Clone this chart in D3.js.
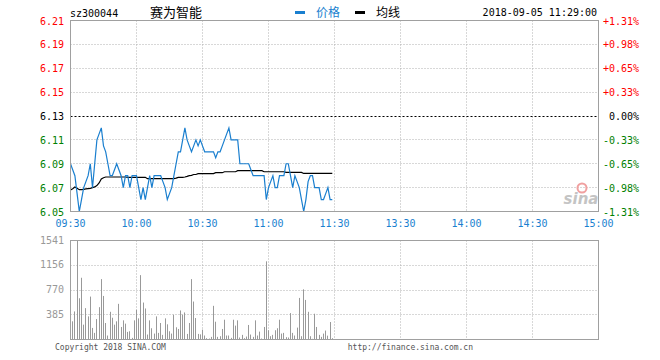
<!DOCTYPE html>
<html lang="zh">
<head>
<meta charset="UTF-8">
<title>sz300044 赛为智能</title>
<script src="https://d3js.org/d3.v7.min.js"></script>
<style>
  body { margin: 0; background: #fff; }
  svg { display: block; }
  .mono { font-family: "DejaVu Sans Mono", "Liberation Mono", monospace; }
</style>
</head>
<body>
<svg width="660" height="360"></svg>
<script>
// price per minute, 09:30 .. 11:29
const prices = [
  6.09, 6.085, 6.08, 6.065, 6.05, 6.06, 6.07, 6.075, 6.08, 6.09,
  6.07, 6.09, 6.11, 6.115, 6.12, 6.105, 6.10, 6.09, 6.08, 6.08,
  6.085, 6.09, 6.085, 6.08, 6.07, 6.08, 6.08, 6.07, 6.08, 6.08,
  6.08, 6.07, 6.06, 6.07, 6.06, 6.07, 6.08, 6.07, 6.08, 6.08,
  6.08, 6.08, 6.075, 6.07, 6.06, 6.065, 6.07, 6.08, 6.09, 6.10,
  6.10, 6.11, 6.12, 6.11, 6.105, 6.10, 6.105, 6.11, 6.105, 6.11,
  6.105, 6.10, 6.10, 6.10, 6.10, 6.10, 6.095, 6.10, 6.10, 6.105,
  6.11, 6.115, 6.12, 6.11, 6.11, 6.11, 6.11, 6.09, 6.09, 6.09,
  6.09, 6.09, 6.085, 6.08, 6.08, 6.08, 6.08, 6.08, 6.08, 6.06,
  6.07, 6.075, 6.08, 6.07, 6.07, 6.08, 6.08, 6.08, 6.09, 6.09,
  6.08, 6.07, 6.08, 6.075, 6.07, 6.06, 6.05, 6.06, 6.075, 6.08,
  6.08, 6.07, 6.07, 6.07, 6.06, 6.06, 6.065, 6.07, 6.06, 6.06
];
const avgPrices = [
  6.068, 6.069, 6.0705, 6.0694, 6.0683, 6.0683, 6.0686, 6.0689, 6.0692, 6.0694,
  6.07, 6.0706, 6.0717, 6.0739, 6.0772, 6.0783, 6.0789, 6.0789, 6.0789, 6.0789,
  6.0789, 6.0789, 6.0789, 6.0789, 6.0789, 6.0789, 6.0786, 6.0786, 6.0786, 6.0786,
  6.0786, 6.0786, 6.0786, 6.0786, 6.0786, 6.0775, 6.0775, 6.0775, 6.0775, 6.0775,
  6.0775, 6.0775, 6.0775, 6.0775, 6.0775, 6.0775, 6.0775, 6.0775, 6.078, 6.0786,
  6.0786, 6.0786, 6.0789, 6.0794, 6.08, 6.0803, 6.081, 6.081, 6.0817, 6.0817,
  6.0817, 6.0817, 6.0817, 6.0817, 6.0817, 6.0817, 6.0825, 6.0825, 6.0825, 6.0825,
  6.0833, 6.0833, 6.0833, 6.0833, 6.0833, 6.0833, 6.0842, 6.0842, 6.0842, 6.0842,
  6.0842, 6.0842, 6.0842, 6.0842, 6.0842, 6.0842, 6.0842, 6.0842, 6.0833, 6.0833,
  6.0833, 6.0833, 6.0833, 6.0833, 6.0833, 6.0833, 6.0833, 6.0833, 6.0828, 6.0828,
  6.0828, 6.0828, 6.0828, 6.0828, 6.0828, 6.0828, 6.0819, 6.0819, 6.0819, 6.0819,
  6.0819, 6.0819, 6.0819, 6.0819, 6.0819, 6.0819, 6.0819, 6.0819, 6.0819, 6.0819
];
// volume per minute (lots)
const volumes = [
  1035, 283, 437, 1541, 642, 961, 231, 488, 360, 668,
  180, 103, 318, 503, 940, 678, 257, 62, 431, 339,
  231, 283, 555, 195, 298, 247, 118, 128, 26, 298,
  462, 329, 1002, 575, 483, 77, 298, 175, 92, 360,
  103, 257, 72, 329, 236, 128, 92, 385, 190, 164,
  452, 385, 421, 87, 257, 940, 591, 334, 87, 80,
  154, 62, 20, 15, 41, 524, 277, 41, 51, 164,
  308, 62, 62, 26, 308, 216, 298, 31, 72, 20,
  46, 226, 77, 41, 298, 62, 123, 15, 195, 1217,
  144, 51, 72, 144, 175, 308, 92, 103, 36, 31,
  411, 103, 62, 185, 647, 51, 781, 616, 431, 51,
  10, 401, 195, 72, 41, 92, 139, 60, 272, 20
];
const prevClose = 6.13;
const priceTicks = [6.21, 6.19, 6.17, 6.15, 6.13, 6.11, 6.09, 6.07, 6.05];
const pctLabels = ['+1.31%', '+0.98%', '+0.65%', '+0.33%', '0.00%', '-0.33%', '-0.65%', '-0.98%', '-1.31%'];
const volTicks = [1541, 1156, 770, 385];
const timeLabels = ['09:30', '10:00', '10:30', '11:00', '11:30', '13:30', '14:00', '14:30', '15:00'];

const svg = d3.select('svg');
const left = 70.5, right = 598.5;
const pTop = 20.5, pBottom = 211.5;
const vTop = 240.5, vBottom = 339.5;
const mono = '"DejaVu Sans Mono", "Liberation Mono", monospace';
const cjk = '"Noto Sans CJK SC", sans-serif';
const grey = '#a0a0a0';
const blue = '#1a7fcf';

const x = d3.scaleLinear().domain([0, 240]).range([left, right]);
const y = d3.scaleLinear().domain([6.05, 6.21]).range([pBottom, pTop]);
const yv = d3.scaleLinear().domain([0, 1541]).range([vBottom, vTop]);

const crisp = v => Math.round(v - 0.5) + 0.5;

// grid, price panel
const grid = svg.append('g').attr('stroke', '#b0b0b0').attr('stroke-dasharray', '1,2');
priceTicks.slice(1, -1).forEach(t => {
  if (t === prevClose) return;
  grid.append('line')
    .attr('x1', left).attr('x2', right)
    .attr('y1', crisp(y(t))).attr('y2', crisp(y(t)));
});
volTicks.slice(1).forEach(t => {
  grid.append('line')
    .attr('x1', left).attr('x2', right)
    .attr('y1', crisp(yv(t))).attr('y2', crisp(yv(t)));
});
d3.range(30, 240, 30).forEach(m => {
  grid.append('line').attr('x1', x(m)).attr('x2', x(m)).attr('y1', pTop).attr('y2', pBottom);
  grid.append('line').attr('x1', x(m)).attr('x2', x(m)).attr('y1', vTop).attr('y2', vBottom);
});

// previous close
svg.append('line')
  .attr('x1', left).attr('x2', right)
  .attr('y1', crisp(y(prevClose))).attr('y2', crisp(y(prevClose)))
  .attr('stroke', '#000').attr('stroke-dasharray', '2,2');

// sina watermark
const wm = svg.append('g');
wm.append('circle').attr('cx', 582).attr('cy', 188).attr('r', 4.5)
  .attr('fill', 'none').attr('stroke', '#f0a0a0').attr('stroke-width', 2);
wm.append('text').attr('x', 581).attr('y', 204).attr('text-anchor', 'middle')
  .attr('font-family', 'Verdana, "DejaVu Sans", sans-serif').attr('font-size', 15)
  .attr('font-weight', 'bold').attr('font-style', 'italic').attr('fill', '#c4c4c4').text('sina');

// volume bars
svg.append('g').selectAll('line')
  .data(volumes)
  .join('line')
  .attr('x1', (d, i) => crisp(x(i))).attr('x2', (d, i) => crisp(x(i)))
  .attr('y1', vBottom).attr('y2', d => yv(d))
  .attr('stroke', '#999').attr('stroke-width', 1);

// average line and price line
svg.append('path')
  .datum(avgPrices)
  .attr('fill', 'none').attr('stroke', '#000').attr('stroke-width', 1.2)
  .attr('d', d3.line().x((d, i) => x(i)).y(d => y(d)));

svg.append('path')
  .datum(prices)
  .attr('fill', 'none').attr('stroke', blue).attr('stroke-width', 1.2)
  .attr('d', d3.line().x((d, i) => x(i)).y(d => y(d)));

// frames
svg.append('rect').attr('x', left).attr('y', pTop)
  .attr('width', right - left).attr('height', pBottom - pTop)
  .attr('fill', 'none').attr('stroke', grey);
svg.append('rect').attr('x', left).attr('y', vTop)
  .attr('width', right - left).attr('height', vBottom - vTop)
  .attr('fill', 'none').attr('stroke', grey);

// price labels
const priceColor = t => t > prevClose + 1e-9 ? '#f00' : (t < prevClose - 1e-9 ? '#008000' : '#000');
svg.append('g').selectAll('text')
  .data(priceTicks)
  .join('text')
  .attr('x', 64).attr('y', d => y(d) + 4)
  .attr('text-anchor', 'end')
  .attr('font-family', mono).attr('font-size', 10)
  .attr('fill', priceColor)
  .text(d => d.toFixed(2));

svg.append('g').selectAll('text')
  .data(pctLabels)
  .join('text')
  .attr('x', 639).attr('y', (d, i) => y(priceTicks[i]) + 4)
  .attr('text-anchor', 'end')
  .attr('font-family', mono).attr('font-size', 10)
  .attr('fill', (d, i) => priceColor(priceTicks[i]))
  .text(d => d);

// volume labels
svg.append('g').selectAll('text')
  .data(volTicks)
  .join('text')
  .attr('x', 64).attr('y', d => yv(d) + 3)
  .attr('text-anchor', 'end')
  .attr('font-family', mono).attr('font-size', 10)
  .attr('fill', '#999')
  .text(d => d);

// time labels
svg.append('g').selectAll('text')
  .data(timeLabels)
  .join('text')
  .attr('x', (d, i) => x(i * 30))
  .attr('y', 227)
  .attr('text-anchor', 'middle')
  .attr('font-family', mono).attr('font-size', 10)
  .attr('fill', blue)
  .text(d => d);

// header
svg.append('text').attr('x', 70).attr('y', 17)
  .attr('font-family', mono).attr('font-size', 10).text('sz300044');
svg.append('text').attr('x', 176).attr('y', 17).attr('text-anchor', 'middle')
  .attr('font-family', cjk).attr('font-size', 13).text('赛为智能');
svg.append('rect').attr('x', 295).attr('y', 11).attr('width', 10).attr('height', 3).attr('fill', blue);
svg.append('text').attr('x', 316).attr('y', 17)
  .attr('font-family', cjk).attr('font-size', 12).attr('fill', blue).text('价格');
svg.append('rect').attr('x', 355).attr('y', 11).attr('width', 10).attr('height', 3).attr('fill', '#000');
svg.append('text').attr('x', 376).attr('y', 17)
  .attr('font-family', cjk).attr('font-size', 12).text('均线');
svg.append('text').attr('x', 597).attr('y', 16).attr('text-anchor', 'end')
  .attr('font-family', mono).attr('font-size', 10).text('2018-09-05 11:29:00');

// footer
svg.append('text').attr('x', 55).attr('y', 350)
  .attr('font-family', mono).attr('font-size', 8).attr('fill', '#555').text('Copyright 2018 SINA.COM');
svg.append('text').attr('x', 473).attr('y', 350).attr('text-anchor', 'end')
  .attr('font-family', mono).attr('font-size', 8).attr('fill', '#555').text('http://finance.sina.com.cn');
</script>
</body>
</html>
